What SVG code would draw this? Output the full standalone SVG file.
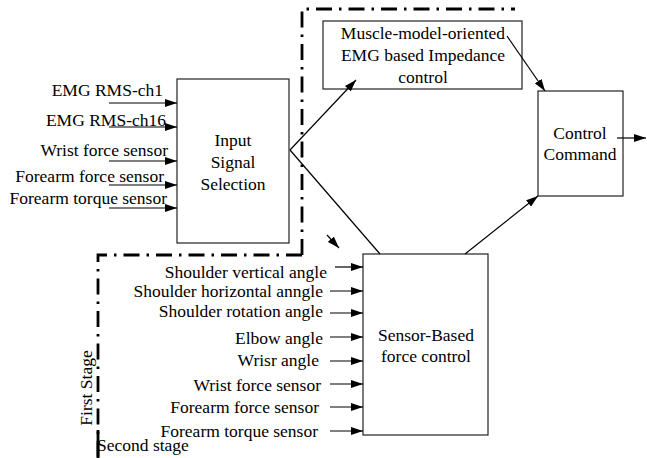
<svg xmlns="http://www.w3.org/2000/svg" width="647" height="458" viewBox="0 0 647 458" font-family="'Liberation Serif', 'DejaVu Serif', serif" font-size="17.5">
<style>
.r{text-anchor:end}
.m{text-anchor:middle}
.box{fill:#fff;stroke:#222;stroke-width:1.2}
.ln{stroke:#000;stroke-width:1.2;fill:none}
.dd{stroke:#000;stroke-width:2.8;fill:none;stroke-dasharray:16 7 2.5 7}
</style>
<defs>
<marker id="ah" markerWidth="12" markerHeight="8" refX="12" refY="4" orient="auto" markerUnits="userSpaceOnUse">
<path d="M0,0 L12,4 L0,8 z" fill="#000"/>
</marker>
</defs>
<g id="stage-borders">
<path class="dd" d="M302,255 L302,9 L515,9"/>
<path class="dd" d="M302,255 L98,255 L98,458"/>
<path d="M98,430 L98,458" stroke="#000" stroke-width="2.8"/>
</g>
<g id="input-selection">
<rect class="box" x="177" y="79" width="112" height="164"/>
<text class="m" x="233" y="146">Input</text>
<text class="m" x="233" y="168">Signal</text>
<text class="m" x="233" y="190">Selection</text>
</g>
<g id="first-inputs">
<text class="r" x="163" y="96">EMG RMS-ch1</text>
<text class="r" x="166" y="126">EMG RMS-ch16</text>
<text class="r" x="168" y="156">Wrist force sensor</text>
<text class="r" x="164" y="182">Forearm force sensor</text>
<text class="r" x="167" y="204">Forearm torque sensor</text>
</g>
<g id="emg-impedance">
<rect class="box" x="323" y="21" width="199" height="68"/>
<text class="m" x="423" y="39">Muscle-model-oriented</text>
<text class="m" x="423" y="61">EMG based Impedance</text>
<text class="m" x="423" y="83">control</text>
</g>
<g id="control-command">
<rect class="box" x="538" y="91" width="85" height="105"/>
<text class="m" x="580" y="139">Control</text>
<text class="m" x="580" y="160">Command</text>
</g>
<g id="sensor-force">
<rect class="box" x="363" y="254" width="125" height="181"/>
<text class="m" x="426" y="341">Sensor-Based</text>
<text class="m" x="426" y="362">force control</text>
</g>
<g id="second-inputs">
<text class="r" x="327" y="278">Shoulder vertical angle</text>
<text class="r" x="323" y="297">Shoulder horizontal anngle</text>
<text class="r" x="323" y="317">Shoulder rotation angle</text>
<text class="r" x="323" y="344">Elbow angle</text>
<text class="r" x="319" y="366">Wrisr angle</text>
<text class="r" x="321" y="391">Wrist force sensor</text>
<text class="r" x="319" y="413">Forearm force sensor</text>
<text class="r" x="318" y="437">Forearm torque sensor</text>
</g>
<g id="stage-labels">
<text class="m" transform="translate(92,388) rotate(-90)">First Stage</text>
<text x="97" y="451">Second stage</text>
</g>
<g id="connectors">
<line class="ln" x1="109" y1="103" x2="177" y2="103" marker-end="url(#ah)"/>
<line class="ln" x1="109" y1="127" x2="177" y2="127" marker-end="url(#ah)"/>
<line class="ln" x1="109" y1="161" x2="177" y2="161" marker-end="url(#ah)"/>
<line class="ln" x1="109" y1="185" x2="177" y2="185" marker-end="url(#ah)"/>
<line class="ln" x1="109" y1="208" x2="177" y2="208" marker-end="url(#ah)"/>
<line class="ln" x1="290" y1="150" x2="356" y2="80" marker-end="url(#ah)"/>
<line class="ln" x1="290" y1="150" x2="380" y2="254"/>
<line class="ln" x1="507" y1="36" x2="545" y2="91" marker-end="url(#ah)"/>
<line class="ln" x1="465" y1="254" x2="538" y2="196" marker-end="url(#ah)"/>
<line class="ln" x1="617" y1="138" x2="646" y2="138" marker-end="url(#ah)"/>
<line class="ln" x1="327" y1="235" x2="339" y2="248" marker-end="url(#ah)"/>
<line class="ln" x1="335" y1="267" x2="363" y2="267" marker-end="url(#ah)"/>
<line class="ln" x1="330" y1="291" x2="363" y2="291" marker-end="url(#ah)"/>
<line class="ln" x1="330" y1="313" x2="363" y2="313" marker-end="url(#ah)"/>
<line class="ln" x1="330" y1="337" x2="363" y2="337" marker-end="url(#ah)"/>
<line class="ln" x1="330" y1="361" x2="363" y2="361" marker-end="url(#ah)"/>
<line class="ln" x1="330" y1="384" x2="363" y2="384" marker-end="url(#ah)"/>
<line class="ln" x1="330" y1="407" x2="363" y2="407" marker-end="url(#ah)"/>
<line class="ln" x1="330" y1="431" x2="363" y2="431" marker-end="url(#ah)"/>
</g>
</svg>
